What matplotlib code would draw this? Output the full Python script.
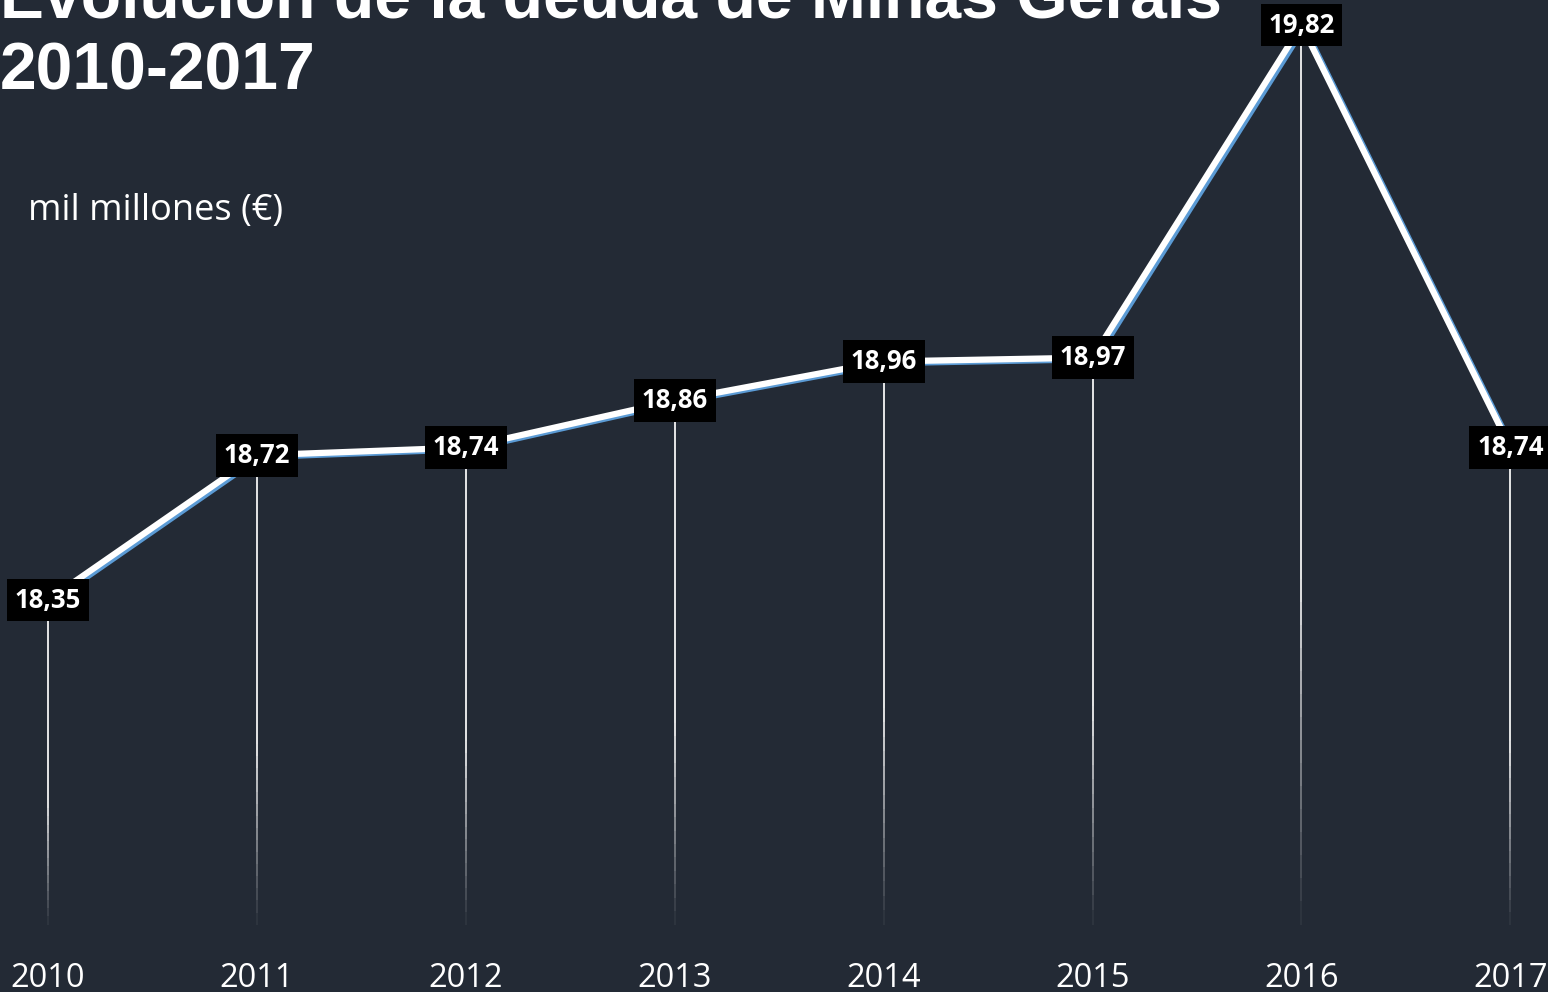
import numpy as np
import matplotlib.pyplot as plt
from matplotlib.transforms import offset_copy

years = [2010, 2011, 2012, 2013, 2014, 2015, 2016, 2017]
deuda = [18.35, 18.72, 18.74, 18.86, 18.96, 18.97, 19.82, 18.74]
etiquetas = ["18,35", "18,72", "18,74", "18,86", "18,96", "18,97", "19,82", "18,74"]

bg = '#232a35'

fig = plt.figure(figsize=(15.48, 9.92), dpi=100, facecolor=bg)
ax = fig.add_axes([0, 0, 1, 1])
ax.set_facecolor(bg)
ax.set_xlim(2009.770, 2017.180)
ax.set_ylim(17.3475, 19.8845)
ax.axis('off')

# drop lines fading towards the bottom
base = 17.52
for x, v in zip(years, deuda):
    edges = np.linspace(base, v, 40)
    for i in range(len(edges) - 1):
        a = min(0.95, 0.05 + i / 16.0)
        ax.plot([x, x], [edges[i], edges[i + 1]], color='white', lw=1.3,
                alpha=a, solid_capstyle='butt', zorder=2)

# line with blue shadow
shadow = offset_copy(ax.transData, fig=fig, x=3, y=-2, units='dots')
ax.plot(years, deuda, color='#5b9bd5', lw=4, transform=shadow, zorder=3)
ax.plot(years, deuda, color='white', lw=4.5, zorder=4)

for x, v, t in zip(years, deuda, etiquetas):
    ax.text(x, v, t, ha='center', va='center', color='white', fontsize=18.5,
            fontweight='bold', family='Open Sans', zorder=6,
            bbox=dict(boxstyle='square,pad=0.3', fc='black', ec='none'))

for x in years:
    ax.text(x, 17.3475 + 13 / 391, str(x), ha='center', va='center',
            color='white', fontsize=23.5, family='Open Sans')

fig.text(0.0, 1 - 18 / 992, 'Evolución de la deuda de Minas Gerais',
         ha='left', va='baseline', color='white', fontsize=47.5,
         fontweight='bold', family='Liberation Sans')
fig.text(0.0, 1 - 90 / 992, '2010-2017', ha='left', va='baseline',
         color='white', fontsize=47.5, fontweight='bold', family='Liberation Sans')
fig.text(28 / 1548, 1 - 211 / 992, 'mil millones (€)', ha='left', va='center',
         color='white', fontsize=26, family='Open Sans')

fig.savefig('out.png', dpi=100, facecolor=bg)
